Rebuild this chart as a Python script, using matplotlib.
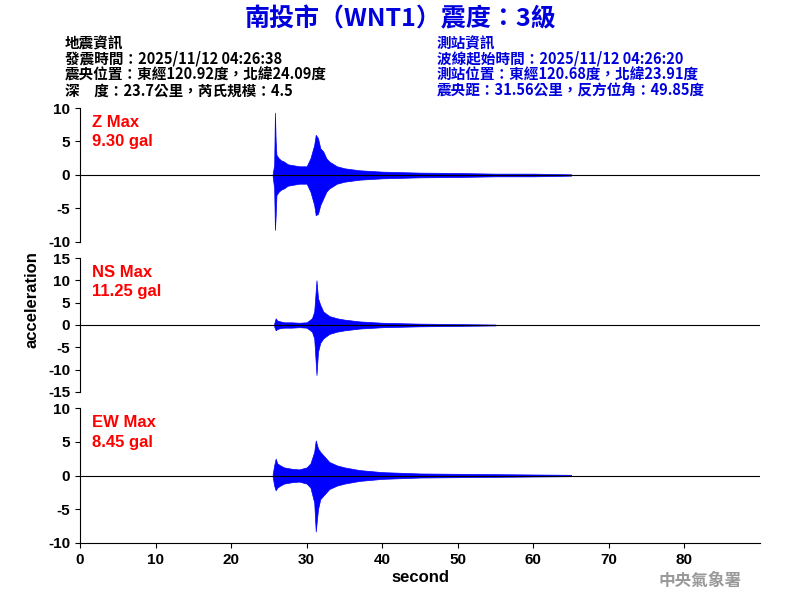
import matplotlib
matplotlib.use("Agg")
import matplotlib.pyplot as plt

plt.rcParams['font.family'] = ['Liberation Sans', 'Noto Sans CJK TC']
plt.rcParams['axes.unicode_minus'] = False

# envelope data (time s, upper, lower)
z_t  = [25.5, 25.7, 25.8, 25.9, 26.0, 26.3, 26.6, 27.0, 27.5, 28.0, 29.0, 30.0, 30.5, 31.0, 31.2, 31.5, 31.8, 32.2, 32.6, 33.0, 34.0, 35.0, 37.0, 40.0, 45.0, 50.0, 55.0, 60.0, 65.0]
z_hi = [0.2, 1.5, 9.3, 5.0, 3.0, 2.5, 2.2, 2.0, 1.6, 1.5, 1.3, 1.3, 2.5, 4.5, 6.0, 5.5, 4.0, 3.5, 2.5, 2.0, 1.3, 1.0, 0.7, 0.5, 0.35, 0.3, 0.2, 0.2, 0.1]
z_lo = [-0.2, -2.0, -8.2, -6.0, -3.0, -2.5, -2.2, -2.0, -1.6, -1.5, -1.3, -1.3, -2.5, -4.5, -6.0, -5.8, -4.5, -3.5, -2.5, -2.0, -1.3, -1.0, -0.7, -0.5, -0.35, -0.3, -0.2, -0.2, -0.1]

ns_t  = [25.7, 25.9, 26.1, 26.5, 27.0, 28.0, 29.0, 30.0, 30.7, 31.0, 31.3, 31.5, 31.8, 32.2, 32.6, 33.0, 34.0, 35.0, 37.0, 40.0, 45.0, 50.0, 55.0]
ns_hi = [0.3, 1.5, 1.0, 0.8, 0.6, 0.6, 0.5, 0.6, 1.5, 3.0, 10.0, 6.0, 4.5, 3.0, 2.5, 2.0, 1.5, 1.2, 0.8, 0.5, 0.3, 0.2, 0.1]
ns_lo = [-0.3, -1.2, -0.9, -0.7, -0.6, -0.6, -0.5, -0.6, -1.5, -3.0, -11.2, -6.0, -4.0, -3.0, -2.5, -2.0, -1.5, -1.2, -0.8, -0.5, -0.3, -0.2, -0.1]

ew_t  = [25.5, 25.7, 25.9, 26.1, 26.5, 27.0, 28.0, 29.0, 30.0, 30.5, 31.0, 31.2, 31.5, 31.8, 32.2, 32.6, 33.0, 34.0, 35.0, 37.0, 40.0, 45.0, 50.0, 55.0, 60.0, 65.0]
ew_hi = [0.2, 1.5, 2.5, 1.8, 1.5, 1.2, 1.0, 0.9, 1.2, 1.8, 3.5, 5.2, 4.0, 3.5, 3.0, 2.5, 2.0, 1.5, 1.2, 0.8, 0.5, 0.3, 0.25, 0.2, 0.15, 0.1]
ew_lo = [-0.2, -1.5, -2.2, -1.8, -1.5, -1.2, -1.0, -0.9, -1.2, -1.8, -4.0, -8.3, -5.0, -3.5, -3.0, -2.5, -2.0, -1.5, -1.2, -0.8, -0.5, -0.3, -0.25, -0.2, -0.15, -0.1]

labels = ["Z Max\n9.30 gal", "NS Max\n11.25 gal", "EW Max\n8.45 gal"]
ylims = [(-10, 10), (-15, 15), (-10, 10)]
yticks = [[-10, -5, 0, 5, 10], [-15, -10, -5, 0, 5, 10, 15], [-10, -5, 0, 5, 10]]
positions = [(0.82, 0.5967), (0.57, 0.3467), (0.32, 0.095)]
series = [(z_t, z_hi, z_lo), (ns_t, ns_hi, ns_lo), (ew_t, ew_hi, ew_lo)]

fig = plt.figure(figsize=(8, 6), dpi=100)
for i in range(3):
    top, bot = positions[i]
    ax = fig.add_axes([0.1, bot, 0.85, top - bot])
    t, hi, lo = series[i]
    ax.axhline(0, color='black', lw=0.8)
    ax.fill_between(t, lo, hi, color='#0000ff', lw=0.5)
    ax.set_xlim(0, 90)
    ax.set_ylim(*ylims[i])
    ax.set_yticks(yticks[i])
    for s in ['top', 'right']:
        ax.spines[s].set_visible(False)
    if i < 2:
        ax.spines['bottom'].set_visible(False)
        ax.set_xticks([])
    else:
        ax.set_xticks([0, 10, 20, 30, 40, 50, 60, 70, 80])
        ax.set_xlabel("second", fontsize=12, fontweight='bold', labelpad=2)
    ax.tick_params(labelsize=11)
    for lab in ax.get_yticklabels() + ax.get_xticklabels():
        lab.set_fontweight('bold')
    ax.text(0.018, 0.95, labels[i], transform=ax.transAxes, color='red',
            fontsize=12, fontweight='bold', va='top', ha='left', linespacing=1.4)

fig.text(0.04, 0.5, "acceleration", rotation=90, fontsize=12, fontweight='bold', va='center', ha='center')

cjk = ['Noto Sans CJK TC', 'Liberation Sans']
fig.text(0.5, 0.968, "南投市（WNT1）震度：3級", color='#0000dd', fontsize=18,
         fontweight='bold', ha='center', va='center', family=cjk)
left_lines = ["地震資訊", "發震時間：2025/11/12 04:26:38", "震央位置：東經120.92度，北緯24.09度", "深　度：23.7公里，芮氏規模：4.5"]
right_lines = ["測站資訊", "波線起始時間：2025/11/12 04:26:20", "測站位置：東經120.68度，北緯23.91度", "震央距：31.56公里，反方位角：49.85度"]
for k, (a, b) in enumerate(zip(left_lines, right_lines)):
    y = 1 - (43 + 16 * k) / 600
    fig.text(0.081, y, a, fontsize=10.5, fontweight='bold', va='center', family=cjk)
    fig.text(0.546, y, b, fontsize=10.5, fontweight='bold', va='center', color='#0000dd', family=cjk)
fig.text(0.875, 1 - 581 / 600, "中央氣象署", fontsize=12, fontweight='bold', color='#999999',
         ha='center', va='center', family=cjk)
fig.savefig("out.png", dpi=100)
